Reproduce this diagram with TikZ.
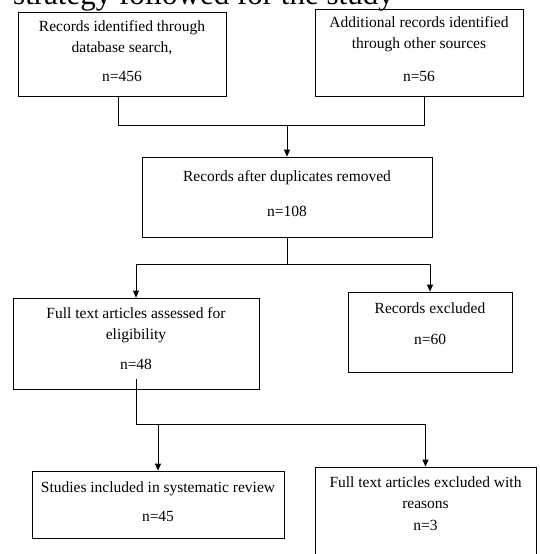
\documentclass[tikz,border=0pt]{standalone}
\usepackage{fontspec}
\setmainfont{Liberation Serif}
\usetikzlibrary{arrows.meta,calc}

\begin{document}
\begin{tikzpicture}[x=1pt, y=-1pt, font=\fontsize{15.5}{21}\selectfont,
    box/.style={draw, line width=0.8pt, align=center, inner sep=0pt},
    flow/.style={line width=0.8pt},
    arr/.style={flow, -{Triangle[length=7pt, width=6pt]}}]
    \useasboundingbox (0,0) rectangle (540,554);
    \clip (0,0) rectangle (540,554);

    % --- Title (cut off at the top) ---
    \node[anchor=base west, inner sep=0pt, font=\fontsize{31}{31}\selectfont] (title) at (13,5) {strategy followed for the study};

    % --- Identification ---
    \node[box, minimum width=208, minimum height=84] (db) at (122,54)
        {Records identified through\\ database search,\\[8pt] n=456\\[-15pt]~};
    \node[box, minimum width=208, minimum height=87] (other) at (419,52.5)
        {Additional records identified\\ through other sources\\[12pt] n=56\\[-15pt]~};

    % --- Screening ---
    \node[box, minimum width=290, minimum height=80] (dup) at (287,197)
        {Records after duplicates removed\\[14pt] n=108\\[-15pt]~};
    \node[box, minimum width=246, minimum height=91] (full) at (136,343.5)
        {Full text articles assessed for\\ eligibility\\[9pt] n=48\\[-11pt]~};
    \node[box, minimum width=164, minimum height=80] (excl) at (430,332)
        {Records excluded\\[10pt] n=60\\[-5pt]~};

    % --- Included ---
    \node[box, minimum width=252, minimum height=67] (incl) at (158,504.5)
        {Studies included in systematic review\\[8pt] n=45\\[-15pt]~};
    \node[box, minimum width=221, minimum height=93] (reason) at (425.5,513.5)
        {Full text articles excluded with\\ reasons\\[1pt] n=3\\[-1pt]~};

    % Joins
    \coordinate (j1) at ($(dup.north)+(0,-31)$);
    \coordinate (j2) at ($(dup.south)+(0,27)$);
    \coordinate (s) at ($(full.south)+(0,-10)$);
    \coordinate (j3) at ($(full.south)+(0,35)$);

    % Connectors
    \draw[flow] ($(db.south)+(-4,0)$) |- (j1);
    \draw[flow] ($(other.south)+(5,0)$) |- (j1);
    \draw[arr] (j1) -- (dup.north);
    \draw[flow] (dup.south) -- (j2);
    \draw[arr] (j2) -| (full.north);
    \draw[arr] (j2) -| (excl.north);
    \draw[arr] (s) -- (j3) -| (reason.north);
    \draw[arr] (j3 -| incl.north) -- (incl.north);
\end{tikzpicture}
\end{document}
